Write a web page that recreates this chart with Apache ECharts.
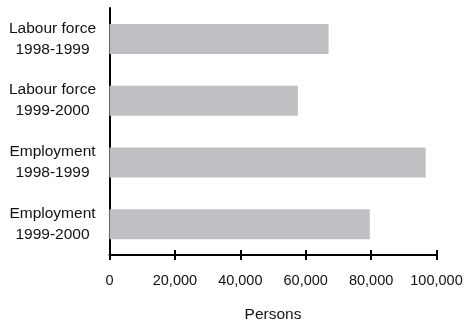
<!DOCTYPE html>
<html>
<head>
<meta charset="utf-8">
<style>
  html, body { margin: 0; padding: 0; background: #fff; }
  #chart { width: 466px; height: 320px; }
</style>
<script src="https://cdn.jsdelivr.net/npm/echarts@6/dist/echarts.min.js"></script>
</head>
<body>
<div id="chart"></div>
<script>
// Categories, top to bottom
const categories = [
  'Labour force\n1998-1999',
  'Labour force\n1999-2000',
  'Employment\n1998-1999',
  'Employment\n1999-2000'
];
// Persons
const persons = [67000, 57600, 96700, 79600];
// Value axis ticks
const xTicks = [0, 20000, 40000, 60000, 80000, 100000];
const axisTitle = 'Persons';

const font = '"Liberation Sans", Arial, sans-serif';
const fmt = v => v.toLocaleString('en-US');

const chart = echarts.init(document.getElementById('chart'), null, { renderer: 'canvas' });

const grid = { left: 109.5, right: 29.5, top: 8, bottom: 65, outerBoundsMode: 'none', containLabel: false };

chart.setOption({
  animation: false,
  backgroundColor: '#ffffff',
  grid: grid,
  xAxis: [
    {
      type: 'value',
      position: 'bottom',
      min: xTicks[0],
      max: xTicks[xTicks.length - 1],
      interval: xTicks[1] - xTicks[0],
      name: axisTitle,
      nameLocation: 'middle',
      nameGap: 52,
      nameMoveOverlap: false,
      nameTextStyle: { fontFamily: font, fontSize: 15.5, color: '#111' },
      splitLine: { show: false },
      axisLine: { show: true, lineStyle: { color: '#000', width: 2 } },
      axisTick: { show: true, inside: false, length: 5, lineStyle: { color: '#000', width: 2 } },
      axisLabel: { fontFamily: font, fontSize: 14.5, color: '#111', margin: 18, formatter: fmt }
    },
    {
      // second copy of the value axis to draw the inward half of each tick
      type: 'value',
      position: 'bottom',
      min: xTicks[0],
      max: xTicks[xTicks.length - 1],
      interval: xTicks[1] - xTicks[0],
      splitLine: { show: false },
      axisLine: { show: false },
      axisTick: { show: true, inside: true, length: 5, lineStyle: { color: '#000', width: 2 } },
      axisLabel: { show: false }
    }
  ],
  yAxis: {
    type: 'category',
    inverse: true,
    data: categories,
    axisLine: { show: true, lineStyle: { color: '#000', width: 2 } },
    axisTick: { show: false },
    axisLabel: {
      fontFamily: font,
      fontSize: 15.5,
      lineHeight: 21,
      color: '#111',
      align: 'center',
      margin: 57
    }
  },
  series: [{
    type: 'bar',
    xAxisIndex: 0,
    data: persons,
    barWidth: 30,
    itemStyle: { color: '#c0bfc4' },
    silent: true
  }]
});
</script>
</body>
</html>
